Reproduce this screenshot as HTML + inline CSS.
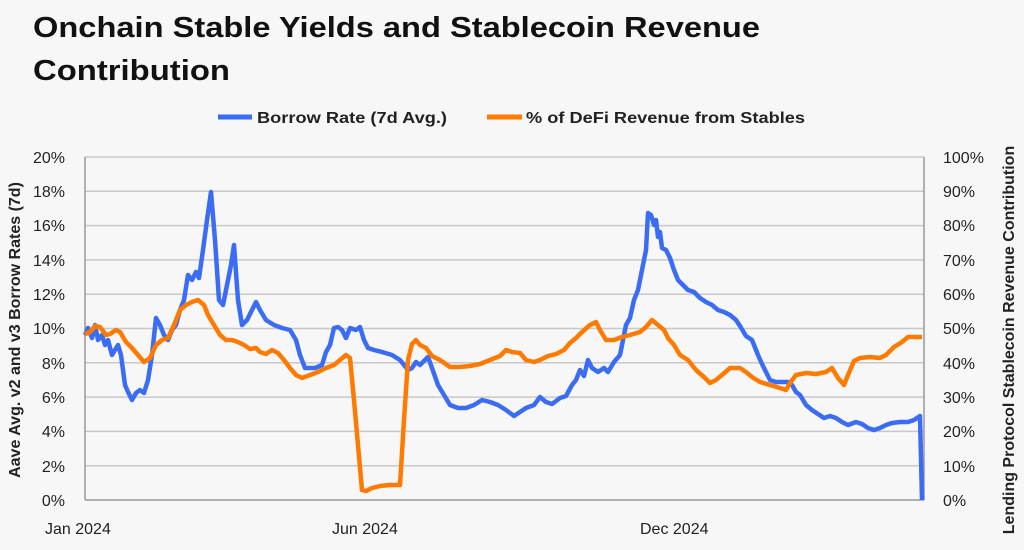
<!DOCTYPE html>
<html><head><meta charset="utf-8"><style>
body{margin:0;background:#f7f7f7;width:1024px;height:545px;overflow:hidden;font-family:"Liberation Sans",sans-serif}
</style></head><body>
<svg width="1024" height="545" xmlns="http://www.w3.org/2000/svg" font-family="Liberation Sans, sans-serif">
<rect width="1024" height="545" fill="#f7f7f7"/>
<text x="33" y="37" font-size="29" font-weight="bold" fill="#111" textLength="727" lengthAdjust="spacingAndGlyphs">Onchain Stable Yields and Stablecoin Revenue</text>
<text x="33" y="80" font-size="29" font-weight="bold" fill="#111" textLength="197" lengthAdjust="spacingAndGlyphs">Contribution</text>
<line x1="218" y1="117" x2="252" y2="117" stroke="#3a6cf4" stroke-width="5"/>
<text x="257" y="123" font-size="16" font-weight="bold" fill="#222" textLength="190" lengthAdjust="spacingAndGlyphs">Borrow Rate (7d Avg.)</text>
<line x1="487" y1="117" x2="522" y2="117" stroke="#ff7a00" stroke-width="5"/>
<text x="526" y="123" font-size="16" font-weight="bold" fill="#222" textLength="279" lengthAdjust="spacingAndGlyphs">% of DeFi Revenue from Stables</text>
<g stroke="#c8c8c8" stroke-width="1.5">
<line x1="85" y1="157" x2="924" y2="157"/><line x1="85" y1="191.3" x2="924" y2="191.3"/><line x1="85" y1="225.6" x2="924" y2="225.6"/><line x1="85" y1="259.9" x2="924" y2="259.9"/><line x1="85" y1="294.2" x2="924" y2="294.2"/><line x1="85" y1="328.5" x2="924" y2="328.5"/><line x1="85" y1="362.8" x2="924" y2="362.8"/><line x1="85" y1="397.1" x2="924" y2="397.1"/><line x1="85" y1="431.4" x2="924" y2="431.4"/><line x1="85" y1="465.7" x2="924" y2="465.7"/>
</g>
<g stroke="#999" stroke-width="1.5"><line x1="85" y1="157" x2="85" y2="500"/><line x1="924" y1="157" x2="924" y2="500"/><line x1="85" y1="500" x2="924" y2="500"/></g>
<g font-size="16" fill="#222" text-anchor="end">
<text x="65" y="163">20%</text><text x="65" y="197">18%</text><text x="65" y="231">16%</text><text x="65" y="266">14%</text><text x="65" y="300">12%</text><text x="65" y="334">10%</text><text x="65" y="369">8%</text><text x="65" y="403">6%</text><text x="65" y="437">4%</text><text x="65" y="472">2%</text><text x="65" y="506">0%</text>
</g>
<g font-size="16" fill="#222">
<text x="943" y="163">100%</text><text x="943" y="197">90%</text><text x="943" y="231">80%</text><text x="943" y="266">70%</text><text x="943" y="300">60%</text><text x="943" y="334">50%</text><text x="943" y="369">40%</text><text x="943" y="403">30%</text><text x="943" y="437">20%</text><text x="943" y="472">10%</text><text x="943" y="506">0%</text>
</g>
<g font-size="16" fill="#222"><text x="45" y="534">Jan 2024</text><text x="332" y="534">Jun 2024</text><text x="640" y="534">Dec 2024</text></g>
<text transform="translate(20,330) rotate(-90)" font-size="16" font-weight="bold" fill="#222" text-anchor="middle">Aave Avg. v2 and v3 Borrow Rates (7d)</text>
<text transform="translate(1014,340) rotate(-90)" font-size="16" font-weight="bold" fill="#222" text-anchor="middle">Lending Protocol Stablecoin Revenue Contribution</text>
<polyline fill="none" stroke="#3a6cf4" stroke-width="4.5" stroke-linejoin="round" points="85,335 88,328 92,338 95,325 98,340 102,335 105,345 108,340 112,355 115,350 118,345 121,355 125,385 128,392 132,400 136,393 140,390 144,393 148,380 152,355 156,318 160,325 164,335 168,340 172,330 176,325 180,310 184,300 188,275 192,280 196,272 199,278 203,250 207,220 211,192 215,240 219,300 223,305 227,285 231,265 234,245 238,300 242,325 247,320 252,310 256,302 260,310 266,320 274,325 282,328 290,330 296,340 300,355 305,368 315,368 322,365 326,352 330,345 334,328 338,327 342,330 346,338 350,328 356,330 360,327 364,340 368,348 374,350 382,352 392,355 400,360 408,370 412,368 416,362 420,365 428,357 432,368 438,385 444,395 450,405 458,408 466,408 474,405 482,400 490,402 498,405 506,410 514,416 520,412 526,408 534,405 540,397 546,402 552,404 560,398 566,396 572,385 576,380 580,370 584,376 588,360 592,368 598,372 604,368 608,372 614,362 620,355 626,325 630,318 634,300 638,290 642,270 646,250 648,213 651,215 654,225 656,220 658,237 660,232 662,248 666,250 670,258 674,270 678,280 682,284 688,290 694,292 700,298 706,302 712,305 718,310 724,312 730,315 736,320 740,326 746,336 752,340 758,355 762,364 766,372 770,380 776,382 782,382 788,382 792,385 796,392 800,395 806,405 812,410 818,414 824,418 830,416 836,418 842,422 848,425 856,422 862,424 868,428 874,430 880,428 886,425 892,423 900,422 908,422 914,420 920,416 922,500"/>
<polyline fill="none" stroke="#ff7a00" stroke-width="4.5" stroke-linejoin="round" points="85,334 90,332 95,326 100,327 106,335 110,334 116,330 120,332 126,342 132,348 138,355 144,362 150,358 156,345 162,340 168,338 174,325 180,310 186,305 192,302 198,300 204,305 208,315 214,325 220,335 226,340 232,340 238,342 244,345 250,349 256,348 260,352 266,354 272,350 278,353 284,360 290,368 296,375 302,378 310,375 318,372 326,368 334,365 340,360 346,355 350,358 354,400 358,445 362,490 366,491 372,488 380,486 390,485 400,485 404,420 408,360 412,344 416,340 420,345 426,348 432,356 440,360 450,367 460,367 470,366 480,364 490,360 500,356 506,350 512,352 520,353 526,360 534,362 540,360 548,356 556,354 564,350 570,343 576,338 582,332 590,325 596,322 600,330 606,340 614,340 622,337 630,335 640,332 646,327 652,320 658,325 664,330 668,338 674,345 680,355 688,360 696,370 704,377 710,383 716,380 722,375 730,368 740,368 746,372 752,377 760,382 770,385 780,388 786,390 790,383 796,375 806,373 816,374 826,372 832,368 838,378 844,385 848,375 854,361 860,358 870,357 880,358 886,355 894,347 902,342 908,337 916,337 922,337"/>
</svg>
</body></html>
